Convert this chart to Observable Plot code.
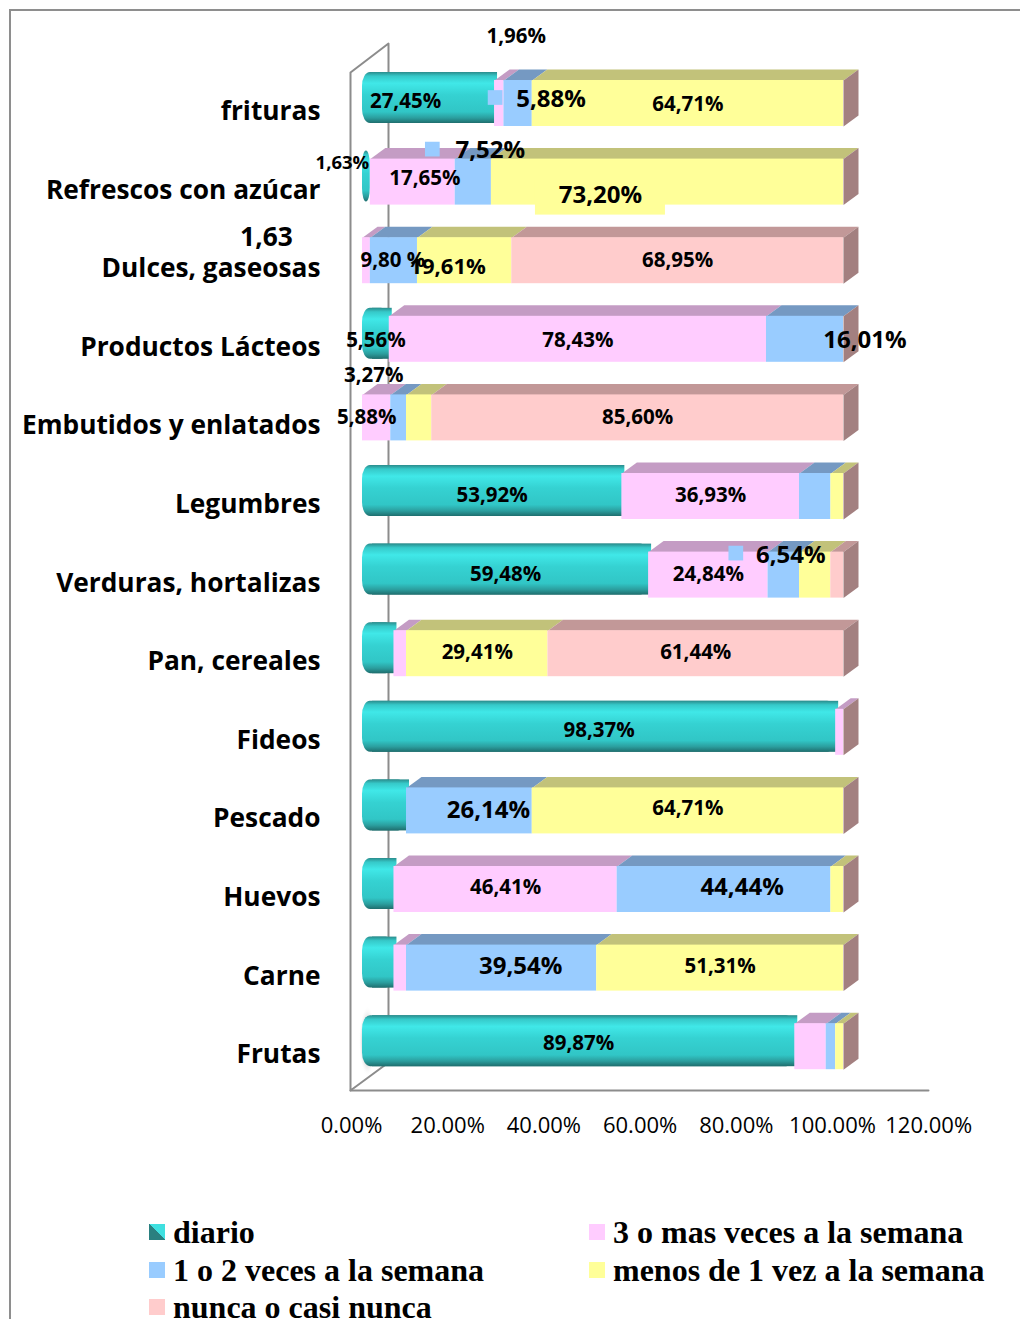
<!DOCTYPE html>
<html><head><meta charset="utf-8">
<script src="https://cdn.jsdelivr.net/npm/d3@7"></script>
<script src="https://cdn.jsdelivr.net/npm/@observablehq/plot@0.6"></script>
<style>
html,body{margin:0;padding:0;background:#fff;width:1020px;height:1319px;overflow:hidden;position:relative;}
#frame{position:absolute;left:9px;top:9px;width:1100px;height:1400px;border:2px solid #8e8e8e;box-sizing:border-box;}
#chart{position:absolute;left:0;top:0;}
#legend{position:absolute;left:0;top:1170px;width:1020px;height:149px;font-family:"Liberation Serif",serif;font-weight:bold;font-size:32px;color:#000;}
.li{position:absolute;display:flex;align-items:center;white-space:nowrap;height:40px;}
.sw{width:16px;height:16px;margin-right:8px;flex:none;}
</style></head><body>
<div id="frame"></div>
<div id="chart"></div>
<div id="legend"></div>
<script>
// ---------- data ----------
const categories = ["frituras","Refrescos con azúcar","Dulces, gaseosas","Productos Lácteos","Embutidos y enlatados","Legumbres","Verduras, hortalizas","Pan, cereales","Fideos","Pescado","Huevos","Carne","Frutas"];
const seriesNames = ["diario","3 o mas veces a la semana","1 o 2 veces a la semana","menos de 1 vez a la semana","nunca o casi nunca"];
const diario     = [27.45, 1.63, 0,    5.56, 0,    53.92, 59.48, 6.54, 98.37, 9.15, 6.54, 6.54, 89.87];
const tresOMas   = [1.96, 17.65, 1.63, 78.43, 5.88, 36.93, 24.84, 2.61, 1.63, 0,    46.41, 2.61, 6.54];
const unoODos    = [5.88, 7.52, 9.80, 16.01, 3.27, 6.54, 6.54, 0,    0,    26.14, 44.44, 39.54, 1.96];
const menosDeUno = [64.71, 73.20, 19.61, 0,  5.25, 2.61, 6.50, 29.41, 0,   64.71, 2.61, 51.31, 1.63];
const nunca      = [0,    0,    68.95, 0,   85.60, 0,   2.64, 61.44, 0,    0,    0,    0,    0];
const xTicks = [0, 20, 40, 60, 80, 100, 120];

// ---------- styles / layout ----------
const frontColors = ["url(#tealGrad)", "#ffccff", "#99ccff", "#ffff99", "#ffcccc"];
const topColors = [null, "#c49cc4", "#7599c2", "#c2c27a", "#c29898"];
const sideColor = "#a38080";
const legendColors = ["teal", "#ffccff", "#99ccff", "#ffff99", "#ffcccc"];

const W = 1020, H = 1170;
const xr = [362, 939.2], yr = [103, 1046.2];
const pxX = (xr[1] - xr[0]) / 120, pxY = (yr[1] - yr[0]) / 12;
const depthX = 15 / pxX, depthY = -11 / pxY, half = 23 / pxY;

// label nudges (pixels) relative to the segment centre
const labelLayout = [
  {row:0,s:0,dx:-23,dy:-2},
  {row:0,s:1,dx:17,dy:-67},
  {row:0,s:2,dx:33,dy:-4,size:"big",key:[-23,-6]},
  {row:0,s:3,dx:0,dy:1},
  {row:1,s:0,dx:-24,dy:-19,size:"small"},
  {row:1,s:1,dx:12,dy:-4},
  {row:1,s:2,dx:17,dy:-32,size:"big",key:[-41,-33]},
  {row:1,s:3,dx:-67,dy:13,size:"big",box:true},
  {row:2,s:1,dx:-100,dy:-23,size:"cat",fmt:"nopct"},
  {row:2,s:2,dx:-1,dy:0,fmt:"space"},
  {row:2,s:3,dx:-17,dy:6,size:"mid"},
  {row:2,s:4,dx:0,dy:0},
  {row:3,s:0,dx:0,dy:1},
  {row:3,s:1,dx:0,dy:1},
  {row:3,s:2,dx:60,dy:1,size:"big"},
  {row:4,s:1,dx:-10,dy:0},
  {row:4,s:2,dx:-25,dy:-42},
  {row:4,s:4,dx:0,dy:0},
  {row:5,s:0,dx:0,dy:-1},
  {row:5,s:1,dx:0,dy:-1},
  {row:6,s:0,dx:0,dy:-1},
  {row:6,s:1,dx:0,dy:-1},
  {row:6,s:2,dx:7,dy:-20,size:"big",key:[-48,-22]},
  {row:7,s:3,dx:0,dy:-1},
  {row:7,s:4,dx:0,dy:-1},
  {row:8,s:0,dx:0,dy:-2},
  {row:9,s:2,dx:19,dy:-1,size:"big"},
  {row:9,s:3,dx:0,dy:-2},
  {row:10,s:1,dx:0,dy:-2},
  {row:10,s:2,dx:18,dy:-2,size:"big"},
  {row:11,s:2,dx:19,dy:-2,size:"big"},
  {row:11,s:3,dx:0,dy:-2},
  {row:12,s:0,dx:0,dy:-3}
];
const fontSizes = {normal:20.5, big:24, mid:22, small:18.5, cat:26.3};

// ---------- derived geometry ----------
const series = [diario, tresOMas, unoODos, menosDeUno, nunca];
const segments = [];
const totals = [];
categories.forEach((c, i) => {
  let cum = 0;
  series.forEach((arr, s) => {
    const v = arr[i];
    segments.push({row: i, s, x1: cum, x2: cum + v, v});
    cum += v;
  });
  totals.push(cum);
});
const segOf = (row, s) => segments.find(d => d.row === row && d.s === s);
const visible = segments.filter(d => d.v > 0);
const teal = visible.filter(d => d.s === 0);
const tealFlat = teal.filter(d => (d.x2 - d.x1) * pxX > 18);

const polys = [];
let pid = 0;
visible.filter(d => d.s > 0).forEach(d => {
  const y0 = d.row - half;
  const id = pid++;
  [[d.x1, y0], [d.x2, y0], [d.x2 + depthX, y0 + depthY], [d.x1 + depthX, y0 + depthY]]
    .forEach(([x, y]) => polys.push({id, x, y, color: topColors[d.s]}));
});
totals.forEach((t, i) => {
  const id = pid++;
  [[t, i - half], [t, i + half], [t + depthX, i + half + depthY], [t + depthX, i - half + depthY]]
    .forEach(([x, y]) => polys.push({id, x, y, color: sideColor}));
});

const fmtVal = (v, fmt) => {
  const s = v.toFixed(2).replace(".", ",");
  if (fmt === "nopct") return s;
  if (fmt === "space") return s + " %";
  return s + "%";
};
const labels = labelLayout.map(l => {
  const seg = segOf(l.row, l.s);
  return {
    x: (seg.x1 + seg.x2) / 2 + l.dx / pxX,
    y: l.row + l.dy / pxY,
    text: fmtVal(seg.v, l.fmt),
    size: fontSizes[l.size || "normal"],
    key: l.key ? {x: (seg.x1 + seg.x2) / 2 + l.key[0] / pxX, y: l.row + l.key[1] / pxY} : null,
    box: l.box
  };
});
const keys = labels.filter(d => d.key).map(d => d.key);
const boxes = labels.filter(d => d.box).map(d => ({x1: d.x - 65 / pxX, x2: d.x + 65 / pxX, y1: d.y - 14 / pxY, y2: d.y + 20 / pxY}));

// 3D wall outline (data units)
const wallFrontX = -12 / pxX, wallBackX = 26 / pxX;
const wallTopF = -31 / pxY, wallTopB = -60 / pxY, floorF = 987 / pxY, floorB = 959 / pxY;
const wallLines = [
  {id: 0, x: wallFrontX, y: floorF}, {id: 0, x: wallFrontX, y: wallTopF}, {id: 0, x: wallBackX, y: wallTopB}, {id: 0, x: wallBackX, y: floorB}, {id: 0, x: wallFrontX, y: floorF},
  {id: 1, x: wallFrontX, y: floorF}, {id: 1, x: 566 / pxX, y: floorF}
];
// soft shadow beside the lowest bar
const lastRow = categories.length - 1;
const shadow = [{x1: -3 / pxX, x2: 14 / pxX, y1: lastRow - 40 / pxY, y2: lastRow + 30 / pxY}];

const font = "'Open Sans', sans-serif";
const plot = Plot.plot({
  width: W, height: H,
  marginLeft: xr[0], marginRight: W - xr[1], marginTop: 20, marginBottom: 80,
  x: {domain: [0, 120], range: xr},
  y: {domain: [0, 12], range: yr},
  color: {type: "identity"},
  style: {fontFamily: font, background: "transparent", overflow: "visible"},
  marks: [
    Plot.line(wallLines, {x: "x", y: "y", z: "id", stroke: "#8c8c8c", strokeWidth: 2}),
    Plot.rect(shadow, {x1: "x1", x2: "x2", y1: "y1", y2: "y2", fill: "url(#shadowGrad)"}),
    Plot.rect(teal, {x1: "x1", x2: "x2", y1: d => d.row - half - 8 / pxY, y2: d => d.row + half - 3 / pxY, fill: "url(#tealGrad)", rx: 8, ry: 14}),
    Plot.rect(tealFlat, {x1: d => d.x1 + 10 / pxX, x2: d => d.x2 + 3 / pxX, y1: d => d.row - half - 8 / pxY, y2: d => d.row + half - 3 / pxY, fill: "url(#tealGrad)"}),
    Plot.line(polys, {x: "x", y: "y", z: "id", fill: "color", stroke: null, curve: "linear-closed"}),
    Plot.rect(visible.filter(d => d.s > 0), {x1: "x1", x2: "x2", y1: d => d.row - half, y2: d => d.row + half, fill: d => frontColors[d.s]}),
    Plot.rect(boxes, {x1: "x1", x2: "x2", y1: "y1", y2: "y2", fill: "#ffff99"}),
    Plot.dot(keys, {x: "x", y: "y", symbol: "square", r: 8.3, fill: "#99ccff", stroke: null}),
    Plot.text(labels, {x: "x", y: "y", text: "text", fontSize: "size", fontWeight: "bold", fill: "#000", fontFamily: font}),
    Plot.axisY({ticks: d3.range(categories.length), tickFormat: i => categories[i], tickSize: 0, tickPadding: 42, dy: 8, fontSize: 26.3, fontWeight: "bold", fill: "#000", fontFamily: font}),
    Plot.axisX({ticks: xTicks, tickFormat: d => d.toFixed(2) + "%", tickSize: 0, tickPadding: 27, dx: -11, fontSize: 22, fill: "#000", fontFamily: font})
  ]
});

const defs = `<defs><linearGradient id="tealGrad" x1="0" y1="0" x2="0" y2="1">
<stop offset="0" stop-color="#2a8c8c"/><stop offset="0.08" stop-color="#36c9c9"/><stop offset="0.22" stop-color="#40e8e8"/>
<stop offset="0.45" stop-color="#35d2d2"/><stop offset="0.78" stop-color="#31c6c6"/><stop offset="0.9" stop-color="#2b9e9e"/><stop offset="1" stop-color="#1f6e6e"/>
</linearGradient>
<radialGradient id="shadowGrad" cx="0.5" cy="0.5" r="0.5">
<stop offset="0" stop-color="#555" stop-opacity="0.85"/><stop offset="0.55" stop-color="#888" stop-opacity="0.45"/><stop offset="1" stop-color="#fff" stop-opacity="0"/>
</radialGradient></defs>`;
plot.insertAdjacentHTML("afterbegin", defs);
document.getElementById("chart").appendChild(plot);

// ---------- legend ----------
const legendLayout = [
  {s: 0, left: 149, cy: 62}, {s: 1, left: 589, cy: 62},
  {s: 2, left: 149, cy: 100}, {s: 3, left: 589, cy: 100},
  {s: 4, left: 149, cy: 137}
];
const leg = document.getElementById("legend");
legendLayout.forEach(l => {
  const item = document.createElement("div");
  item.className = "li";
  item.style.left = l.left + "px";
  item.style.top = (l.cy - 20) + "px";
  const sw = document.createElement("div");
  sw.className = "sw";
  sw.style.background = l.s === 0 ? "linear-gradient(to top right, #2a8080 50%, #3fe0e0 50%)" : legendColors[l.s];
  const tx = document.createElement("span");
  tx.textContent = seriesNames[l.s];
  item.appendChild(sw); item.appendChild(tx);
  leg.appendChild(item);
});
</script>
</body></html>
